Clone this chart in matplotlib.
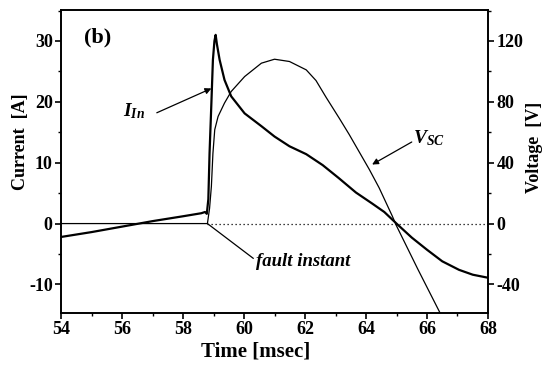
import matplotlib
matplotlib.use("Agg")
import matplotlib.pyplot as plt
from matplotlib.ticker import MultipleLocator

plt.rcParams['font.family'] = ['Liberation Serif', 'DejaVu Serif']
plt.rcParams['font.weight'] = 'bold'
plt.rcParams['axes.unicode_minus'] = False
plt.rcParams['mathtext.fontset'] = 'custom'
plt.rcParams['mathtext.it'] = 'Liberation Serif:italic:bold'
plt.rcParams['mathtext.rm'] = 'Liberation Serif:bold'
plt.rcParams['mathtext.bf'] = 'Liberation Serif:bold'

# Current I_In [A]
t_cur = [54.0, 55.0, 56.0, 57.0, 58.0, 58.6, 58.72, 58.78, 58.83, 58.87, 58.93,
         58.98, 59.03, 59.07, 59.11, 59.2, 59.36, 59.58, 60.02, 60.57, 61.0,
         61.49, 62.04, 62.58, 63.1, 63.67, 64.2, 64.6, 65.0, 65.5, 66.0, 66.5,
         67.05, 67.5, 68.0]
cur = [-2.2, -1.4, -0.5, 0.4, 1.2, 1.7, 1.9, 1.6, 4.0, 11.6, 19.8,
       26.9, 30.0, 31.0, 29.5, 26.9, 23.6, 20.9, 18.1, 16.0, 14.3,
       12.7, 11.4, 9.6, 7.5, 5.1, 3.3, 1.9, 0.0, -2.3, -4.3, -6.2,
       -7.6, -8.4, -8.9]

# Voltage V_sc [V]
t_volt = [54.0, 55.0, 56.0, 57.0, 58.0, 58.8, 58.87, 58.93, 58.98, 59.04, 59.15,
          59.36, 59.58, 60.02, 60.57, 61.0, 61.49, 62.04, 62.36, 62.69, 63.13,
          63.45, 63.78, 64.11, 64.43, 64.86, 65.0, 65.7, 66.43, 66.6]
volt = [0.0, 0.0, 0.0, 0.0, 0.0, 0.0, 10.0, 24.5, 46.0, 61.7, 70.4,
        79.2, 86.8, 96.6, 105.4, 108.0, 106.5, 101.0, 94.0, 83.0, 69.0,
        58.5, 47.0, 35.5, 23.5, 5.0, -1.5, -30.0, -58.8, -66.0]

fault_t = 58.8
x_ticks = [54, 56, 58, 60, 62, 64, 66, 68]
cur_ticks = [-10, 0, 10, 20, 30]
volt_ticks = [-40, 0, 40, 80, 120]

fig = plt.figure(figsize=(5.45, 3.67), dpi=100)
ax = fig.add_axes([0.112, 0.147, 0.7834, 0.826])
ax2 = ax.twinx()

ax.plot(t_cur, cur, color='black', lw=1.6, zorder=3, solid_joinstyle='round')
ax2.plot(t_volt, volt, color='black', lw=0.9, zorder=3, solid_joinstyle='round')
ax.plot([fault_t, 68], [0, 0], color='black', lw=0.9, ls=(0, (1, 2.2)))

ax.set_xlim(54, 68)
ax.set_ylim(-14.7, 35.1)
ax2.set_ylim(-58.8, 140.4)
ax.set_xticks(x_ticks)
ax.set_yticks(cur_ticks)
ax2.set_yticks(volt_ticks)
ax.xaxis.set_minor_locator(MultipleLocator(1))
ax.yaxis.set_minor_locator(MultipleLocator(5))
ax2.yaxis.set_minor_locator(MultipleLocator(20))

for a in (ax, ax2):
    a.tick_params(which='major', direction='out', length=4, width=1.2, labelsize=13, pad=2)
    a.tick_params(which='minor', direction='out', length=2.5, width=1.0)
    for s in a.spines.values():
        s.set_linewidth(1.2)
for lab in ax.get_xticklabels() + ax.get_yticklabels() + ax2.get_yticklabels():
    lab.set_fontweight('bold')

ax.set_xlabel('Time [msec]', fontsize=15, fontweight='bold')
ax.xaxis.set_label_coords(0.455, -0.093)
ax.set_ylabel('Current  [A]', fontsize=13, fontweight='bold')
ax.yaxis.set_label_coords(-0.076, 0.564)
ax2.set_ylabel('Voltage  [V]', fontsize=13, fontweight='bold')
ax2.yaxis.set_label_coords(1.088, 0.545)

ax.text(55.2, 30.5, '(b)', fontsize=16, fontweight='bold', ha='center', va='center')

# I_In label and arrow
ax.annotate('', xy=(58.93, 22.2), xytext=(57.14, 18.2),
            arrowprops=dict(arrowstyle='-|>', color='black', lw=0.9,
                            mutation_scale=9, shrinkA=0, shrinkB=0))
ax.text(56.4, 18.4, r'$I_{In}$', fontsize=14, ha='center', va='center')

# V_sc label and arrow
ax.annotate('', xy=(64.2, 9.7), xytext=(65.5, 13.4),
            arrowprops=dict(arrowstyle='-|>', color='black', lw=0.9,
                            mutation_scale=9, shrinkA=0, shrinkB=0))
ax.text(66.05, 14.0, r'$V_{SC}$', fontsize=14, ha='center', va='center')

# fault instant
ax.plot([fault_t, 60.3], [0, -5.7], color='black', lw=0.9)
ax.text(60.4, -6.2, 'fault instant', fontsize=13.5, fontweight='bold', style='italic',
        ha='left', va='center')

fig.savefig('out.png', dpi=100)
